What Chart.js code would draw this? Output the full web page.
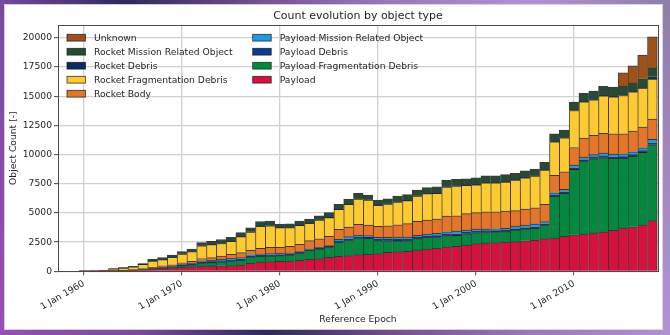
<!DOCTYPE html>
<html>
<head>
<meta charset="utf-8">
<script src="https://cdn.jsdelivr.net/npm/chart.js@4.4.0/dist/chart.umd.min.js"></script>
<style>
  html, body { margin: 0; padding: 0; }
  body {
    width: 670px;
    height: 335px;
    overflow: hidden;
    position: relative;
    background: linear-gradient(67deg, #9650b4 0%, #7a4a9c 17%, #2e2a5a 33%, #7a5290 50%, #9a78b8 65%, #b292d2 83%, #8e7ea6 100%);
  }
  #panel {
    position: absolute;
    left: 5px;
    top: 5px;
    width: 657px;
    height: 324px;
    background: #fff;
    box-shadow: 0 0 0 1px rgba(226, 216, 238, 0.9);
  }
  canvas { display: block; }
</style>
</head>
<body>
<div id="panel"><canvas id="countEvolution" width="657" height="324"></canvas></div>
<script>
const years = [
  1960, 1961, 1962, 1963, 1964, 1965, 1966, 1967, 1968, 1969,
  1970, 1971, 1972, 1973, 1974, 1975, 1976, 1977, 1978, 1979,
  1980, 1981, 1982, 1983, 1984, 1985, 1986, 1987, 1988, 1989,
  1990, 1991, 1992, 1993, 1994, 1995, 1996, 1997, 1998, 1999,
  2000, 2001, 2002, 2003, 2004, 2005, 2006, 2007, 2008, 2009,
  2010, 2011, 2012, 2013, 2014, 2015, 2016, 2017, 2018,
];

const tickYears = [1960, 1970, 1980, 1990, 2000, 2010];
const tickLabels = ['1 Jan 1960', '1 Jan 1970', '1 Jan 1980', '1 Jan 1990', '1 Jan 2000', '1 Jan 2010'];
const countTicks = [0, 2500, 5000, 7500, 10000, 12500, 15000, 17500, 20000];

// counts per object type, one value per year (stacked bottom to top)
const payload = [
  2, 5, 15, 30, 50, 80, 120, 180, 230, 290,
  350, 400, 440, 460, 470, 480, 540, 680, 800, 825,
  850, 880, 940, 1025, 1080, 1195, 1280, 1340, 1425, 1450,
  1510, 1620, 1680, 1710, 1825, 1910, 1965, 2080, 2135, 2250,
  2365, 2420, 2450, 2510, 2540, 2620, 2650, 2795, 2850, 2995,
  3135, 3195, 3280, 3365, 3505, 3705, 3820, 3965, 4335,
];
const payloadFragDebris = [
  0, 0, 0, 0, 5, 10, 15, 30, 45, 70,
  110, 150, 260, 290, 340, 400, 400, 540, 485, 485,
  490, 515, 630, 770, 830, 885, 1225, 1340, 1425, 1370,
  1115, 1000, 940, 915, 970, 1000, 970, 970, 940, 970,
  940, 940, 940, 885, 1000, 1000, 1025, 1170, 3565, 3680,
  5590, 6250, 6365, 6365, 6165, 5965, 6020, 6220, 6505,
];
const payloadDebris = [
  0, 0, 0, 0, 0, 5, 5, 10, 20, 30,
  50, 60, 70, 75, 80, 90, 90, 80, 80, 80,
  80, 70, 50, 50, 60, 50, 80, 100, 90, 90,
  110, 110, 120, 120, 110, 110, 120, 130, 140, 120,
  120, 100, 100, 110, 130, 130, 140, 110, 120, 130,
  140, 130, 130, 150, 140, 150, 150, 150, 170,
];
const payloadMissionObj = [
  0, 0, 0, 0, 5, 10, 15, 20, 40, 50,
  70, 80, 110, 120, 150, 140, 140, 120, 120, 120,
  120, 100, 65, 65, 80, 65, 150, 185, 140, 140,
  175, 175, 195, 195, 175, 175, 195, 210, 230, 195,
  195, 155, 155, 175, 210, 210, 230, 175, 195, 210,
  230, 215, 215, 250, 230, 250, 250, 250, 285,
];
const rocketBody = [
  1, 3, 10, 15, 25, 45, 80, 100, 130, 120,
  145, 170, 220, 230, 260, 345, 430, 380, 485, 540,
  515, 570, 630, 715, 740, 800, 855, 825, 940, 915,
  940, 1000, 1055, 1140, 1200, 1200, 1225, 1340, 1315, 1400,
  1400, 1485, 1455, 1485, 1315, 1370, 1400, 1485, 1485, 1515,
  1510, 1625, 1655, 1685, 1740, 1710, 1770, 1770, 1740,
];
const rocketFragDebris = [
  0, 0, 35, 150, 190, 230, 360, 540, 530, 640,
  760, 830, 1080, 1110, 1085, 1115, 1370, 1560, 1885, 1855,
  1685, 1600, 1625, 1485, 1600, 1600, 1710, 1940, 2170, 2140,
  1800, 1855, 1940, 1970, 2170, 2255, 2195, 2485, 2540, 2425,
  2395, 2485, 2485, 2485, 2625, 2680, 2710, 2940, 2880, 2910,
  3170, 3110, 3055, 3225, 3165, 3280, 3365, 3340, 3425,
];
const rocketDebris = [
  0, 0, 0, 0, 0, 5, 5, 10, 10, 15,
  15, 15, 20, 20, 20, 20, 20, 20, 20, 20,
  20, 20, 20, 20, 20, 20, 20, 20, 25, 25,
  25, 25, 25, 25, 25, 25, 25, 30, 30, 30,
  30, 30, 30, 30, 30, 30, 30, 30, 40, 40,
  40, 40, 40, 40, 40, 40, 40, 60, 200,
];
const rocketMissionObj = [
  0, 2, 10, 30, 35, 40, 55, 135, 160, 180,
  180, 205, 250, 260, 320, 320, 320, 350, 380, 380,
  295, 320, 350, 350, 350, 410, 410, 435, 460, 405,
  430, 430, 490, 490, 490, 490, 545, 570, 540, 540,
  570, 570, 570, 600, 540, 570, 570, 625, 645, 615,
  675, 675, 700, 760, 790, 760, 700, 740, 740,
];
const unknown = [
  0, 0, 0, 0, 0, 0, 0, 0, 0, 0,
  0, 0, 0, 0, 0, 0, 0, 0, 0, 0,
  0, 0, 0, 0, 0, 0, 0, 0, 0, 0,
  0, 0, 0, 0, 0, 0, 0, 0, 0, 0,
  0, 0, 0, 0, 0, 0, 0, 0, 0, 0,
  0, 0, 0, 0, 0, 1140, 1485, 2025, 2680,
];

const seriesNames = [
  'Payload', 'Payload Fragmentation Debris', 'Payload Debris', 'Payload Mission Related Object',
  'Rocket Body', 'Rocket Fragmentation Debris', 'Rocket Debris', 'Rocket Mission Related Object',
  'Unknown',
];
const seriesValues = [
  payload, payloadFragDebris, payloadDebris, payloadMissionObj,
  rocketBody, rocketFragDebris, rocketDebris, rocketMissionObj, unknown,
];
const seriesColors = [
  '#d5123e', '#03893f', '#0c3a90', '#1c9be0',
  '#e57528', '#fdca31', '#0f2a5e', '#284a35', '#9e5119',
];

const FONT = 'DejaVu Sans';
const TEXT = '#262626';

Chart.defaults.font.family = FONT;
Chart.defaults.font.size = 9.2;
Chart.defaults.color = TEXT;

const lastIndex = years.length - 1;

const datasets = seriesNames.map((name, i) => ({
  label: name,
  data: seriesValues[i],
  backgroundColor: seriesColors[i],
  borderColor: 'rgba(25, 25, 25, 0.85)',
  borderSkipped: false,
  borderWidth: (c) => ({ top: 1, left: 1, right: c.dataIndex === lastIndex ? 1 : 0, bottom: 0 }),
  categoryPercentage: 1,
  barPercentage: 1,
}));

// title, axes frame and the two-column legend
const decorations = {
  id: 'decorations',
  afterDatasetsDraw(chart) {
    const { ctx, chartArea: area } = chart;
    ctx.save();

    ctx.strokeStyle = '#4a4a4a';
    ctx.lineWidth = 1;
    ctx.strokeRect(53.5, 20.5, 600, 246);

    ctx.fillStyle = '#1e1e1e';
    ctx.font = '11px ' + FONT;
    ctx.textAlign = 'center';
    ctx.textBaseline = 'middle';
    ctx.fillText('Count evolution by object type', (area.left + area.right) / 2, 10.7);

    ctx.font = '9.2px ' + FONT;
    ctx.textAlign = 'left';
    const order = [8, 7, 6, 5, 4, 3, 2, 1, 0];
    order.forEach((idx, n) => {
      const col = Math.floor(n / 5);
      const row = n % 5;
      const x = col === 0 ? 62 : 247.7;
      const y = 32.7 + row * 14;
      ctx.fillStyle = seriesColors[idx];
      ctx.fillRect(x, y - 3.4, 18.5, 6.8);
      ctx.strokeStyle = 'rgba(25, 25, 25, 0.85)';
      ctx.lineWidth = 0.8;
      ctx.strokeRect(x, y - 3.4, 18.5, 6.8);
      ctx.fillStyle = TEXT;
      ctx.fillText(seriesNames[idx], x + 27, y + 0.5);
    });

    ctx.restore();
  },
};

new Chart(document.getElementById('countEvolution'), {
  type: 'bar',
  data: { labels: years, datasets },
  options: {
    responsive: false,
    animation: false,
    layout: { padding: { top: 20, right: 4, bottom: 0, left: 0 } },
    plugins: {
      legend: { display: false },
      title: { display: false },
      tooltip: { enabled: false },
    },
    scales: {
      x: {
        type: 'linear',
        stacked: true,
        offset: false,
        min: 1957.35,
        max: 2018.57,
        afterBuildTicks: (scale) => {
          scale.ticks = tickYears.map((v) => ({ value: v }));
        },
        afterFit: (scale) => {
          scale.height = 57.7;
        },
        grid: {
          offset: false,
          color: '#d0d0d0',
          lineWidth: 1.3,
          tickColor: '#444',
          tickLength: 4,
          tickWidth: 1,
        },
        border: { display: false },
        ticks: {
          autoSkip: false,
          minRotation: 30,
          maxRotation: 30,
          padding: 3,
          color: TEXT,
          callback: (value, index) => tickLabels[index],
        },
        title: {
          display: true,
          text: 'Reference Epoch',
          color: TEXT,
          padding: { top: 0, bottom: 4 },
        },
      },
      y: {
        stacked: true,
        min: 0,
        max: 21100,
        afterBuildTicks: (scale) => {
          scale.ticks = countTicks.map((v) => ({ value: v }));
        },
        afterFit: (scale) => {
          scale.width = 53;
        },
        grid: {
          color: '#d0d0d0',
          lineWidth: 1.3,
          tickColor: '#444',
          tickLength: 4,
          tickWidth: 1,
        },
        border: { display: false },
        ticks: {
          padding: 2,
          color: TEXT,
          callback: (value) => String(value),
        },
        title: {
          display: true,
          text: 'Object Count [-]',
          color: TEXT,
          padding: { top: 3, bottom: 0 },
        },
      },
    },
  },
  plugins: [decorations],
});
</script>
</body>
</html>
